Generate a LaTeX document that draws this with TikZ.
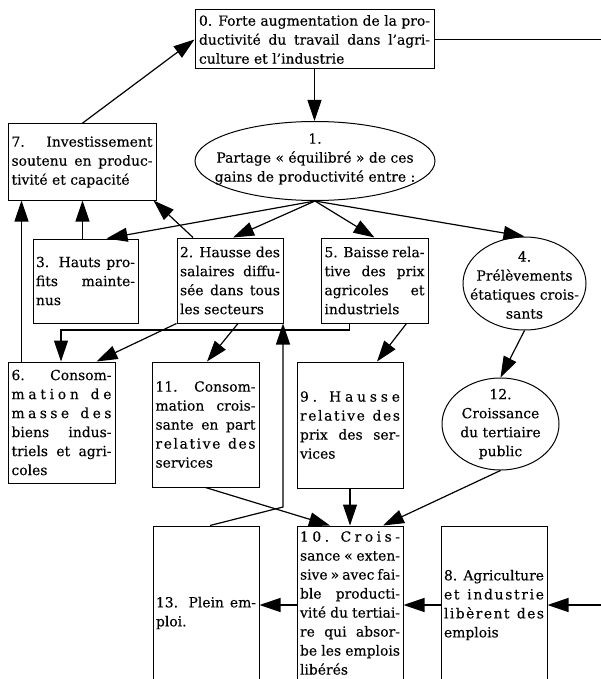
\documentclass[tikz,border=0pt]{standalone}
\usepackage{fontspec}
\setmainfont{DejaVu Serif}[FakeBold=0.2]
\usetikzlibrary{arrows.meta,shapes.geometric,calc}
\newcommand\fnt{\fontsize{13.9}{19}\selectfont}
\newcommand\JL[1]{\hbox to\hsize{#1}}
\newcommand\LL[1]{\hbox to\hsize{#1\hfil}}
\newcommand\CL[1]{\hbox to\hsize{\hfil#1\hfil}}
\makeatletter
\newcommand\SP[1]{\hbox to\hsize{\@tfor\sp@c:=#1\do{\sp@c\hfil}\unskip}}
\makeatother
\tikzset{
  box/.style={draw, line width=1pt, rectangle, inner sep=0pt, font=\fnt},
  oval/.style={draw, line width=1pt, ellipse, inner sep=0pt},
  txt/.style={inner sep=0pt, font=\fnt},
  arr/.style={line width=1.2pt, -{Triangle[length=21pt,width=14pt]}},
  ln/.style={line width=1.2pt},
}
\begin{document}
\begin{tikzpicture}[x=1pt,y=-1pt]
\useasboundingbox (0,0) rectangle (601,679);
\clip (0,0) rectangle (601,679);
\fill[white] (0,0) rectangle (601,679);

% boxes
\node[box, minimum width=239pt, minimum height=59pt] (n0) at (314.5,39.5)
  {\vbox{\hsize=231pt \JL{0. Forte augmentation de la pro-}\JL{ductivité du travail dans l'agri-}\LL{culture et l’industrie}}};
\node[box, minimum width=148pt, minimum height=76pt] (n7) at (82,162)
  {\vbox{\hsize=141pt \JL{7. Investissement}\JL{soutenu en produc-}\LL{tivité et capacité}}};
\node[box, minimum width=105pt, minimum height=84pt] (n3) at (85.5,281)
  {\vbox{\hsize=99pt \JL{3. Hauts pro-}\JL{fits mainte-}\LL{nus}}};
\node[box, minimum width=106pt, minimum height=85pt] (n2) at (230,280.5)
  {\vbox{\hsize=100pt \JL{2. Hausse des}\JL{salaires diffu-}\JL{sée dans tous}\LL{les secteurs}}};
\node[box, minimum width=107pt, minimum height=85pt] (n5) at (374.5,280.5)
  {\vbox{\hsize=100pt \JL{5. Baisse rela-}\JL{tive des prix}\JL{agricoles et}\LL{industriels}}};
\node[box, minimum width=107pt, minimum height=121pt] (n6) at (61.5,422.5)
  {\vbox{\hsize=100pt \JL{6. Consom-}\SP{mation~de}\SP{masse~des}\JL{biens indus-}\JL{triels et agri-}\LL{coles}}};
\node[box, minimum width=107pt, minimum height=125pt] (n11) at (205.5,424.5)
  {\vbox{\hsize=100pt \JL{11. Consom-}\JL{mation crois-}\JL{sante en part}\SP{relative~des}\LL{services}}};
\node[box, minimum width=106pt, minimum height=126pt] (n9) at (350,425)
  {\vbox{\hsize=100pt \SP{9.~Hausse}\SP{relative~des}\JL{prix des ser-}\LL{vices}}};
\node[box, minimum width=106pt, minimum height=174pt] (n13) at (206,613) {};
\node[box, minimum width=106pt, minimum height=174pt] (n10) at (350,613) {};
\node[box, minimum width=106pt, minimum height=174pt] (n8) at (494,613) {};
\node[txt] (t13) at (206,613)
  {\vbox{\hsize=100pt \JL{13. Plein em-}\LL{ploi.}}};
\node[txt] (t10) at (350,603)
  {\vbox{\hsize=100pt \SP{10.~Crois-}\JL{sance « exten-}\JL{sive » avec fai-}\JL{ble producti-}\JL{vité du tertiai-}\JL{re qui absor-}\JL{be les emplois}\LL{libérés}}};
\node[txt] (t8) at (494,605)
  {\vbox{\hsize=100pt \JL{8. Agriculture}\SP{et~industrie}\SP{libèrent~des}\LL{emplois}}};

% ellipses
\node[oval, minimum width=240pt, minimum height=79pt] (e1) at (315,161) {};
\node[txt] (t1) at (315,159)
  {\vbox{\hsize=230pt \CL{1.}\CL{Partage « équilibré » de ces}\CL{gains de productivité entre :}}};
\node[oval, minimum width=123pt, minimum height=93pt] (e4) at (524.5,283.5) {};
\node[txt] (t4) at (524.5,285)
  {\vbox{\hsize=120pt \CL{4.}\CL{Prélèvements}\CL{étatiques crois-}\CL{sants}}};
\node[oval, minimum width=117pt, minimum height=92pt] (e12) at (500.5,424) {};
\node[txt] (t12) at (500.5,424)
  {\vbox{\hsize=115pt \CL{12.}\CL{Croissance}\CL{du tertiaire}\CL{public}}};

% free ends
\coordinate (tr) at (601,39.5);
\coordinate (re) at (601,605);
\coordinate (row) at (0,605);
\coordinate (k) at (61,330);
\coordinate (b1) at (283,507);

% connectors
\draw[arr] (n0.south) -- (n0.south |- e1.north);
\draw[ln] (n0.east) -- (tr);
\draw[arr] (n7.north) -- (n0.west);
\draw[arr] (e1.south) -- ([xshift=21pt]n3.north);
\draw[arr] (e1.south) -- ([xshift=3pt]n2.north);
\draw[arr] (e1.south) -- (n5.north);
\draw[arr] (e1.south) -- (e4.north);
\draw[arr] ([xshift=-3pt]n3.north) -- ([xshift=-3pt]n3.north |- n7.south);
\draw[arr] ([xshift=-37pt]n2.north) -- ([xshift=-3pt]n7.south east);
\draw[arr] ([xshift=14pt]n6.north west) -- ([xshift=14pt]n6.north west |- n7.south);
\draw[arr] ([xshift=29pt]n5.south west) |- (k) -- (k |- n6.north);
\draw[arr] (n2.south west) -- ([xshift=89pt]n6.north west);
\draw[arr] ([xshift=8pt]n2.south) -- ([xshift=1.5pt]n11.north);
\draw[arr] ([xshift=4pt]n13.north) -- (b1) -- (b1 |- n2.south east);
\draw[arr] (n11.south) -- ([xshift=-20pt]n10.north);
\draw[arr] (n9.south) -- (n10.north);
\draw[arr] (e12.south) -- ([xshift=33pt]n10.north);
\draw[arr] ([xshift=32pt]n5.south) -- ([xshift=27pt]n9.north);
\draw[arr] (e4.south) -- (e12.north);
\draw[arr] (n10.west |- row) -- (n13.east |- row);
\draw[arr] (n8.west |- row) -- (n10.east |- row);
\draw[arr] (re) -- (n8.east |- row);
\end{tikzpicture}
\end{document}
